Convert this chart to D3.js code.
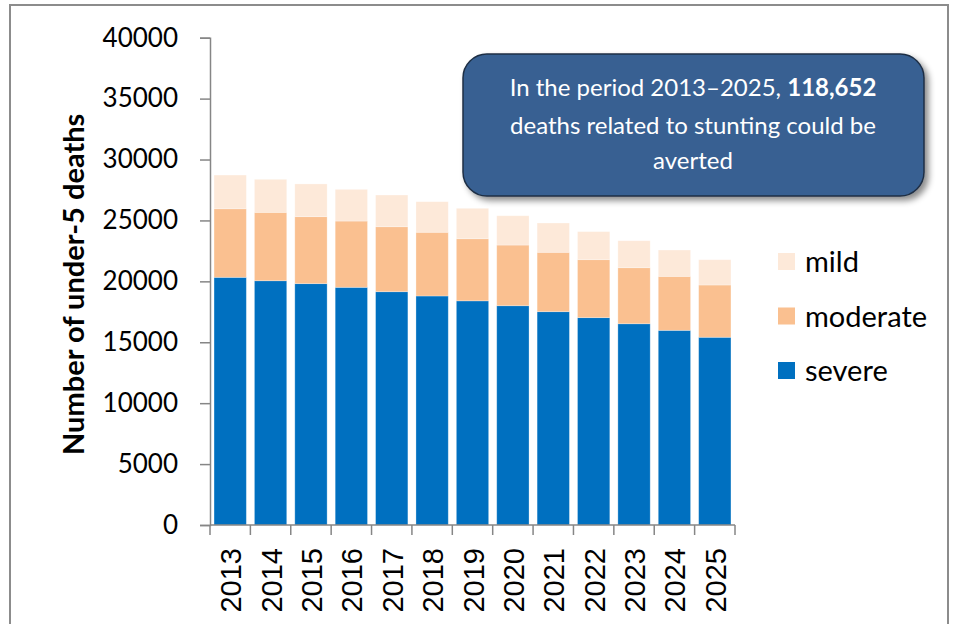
<!DOCTYPE html>
<html>
<head>
<meta charset="utf-8">
<script src="https://cdn.jsdelivr.net/npm/d3@7"></script>
<style>
  body { margin: 0; background: #fff; }
  svg { display: block; font-family: Lato, "Open Sans", sans-serif; }
</style>
</head>
<body>
<div></div>
<script>
const years = ['2013', '2014', '2015', '2016', '2017', '2018', '2019', '2020', '2021', '2022', '2023', '2024', '2025'];
const severe = [20330, 20050, 19810, 19510, 19150, 18800, 18400, 18000, 17510, 17020, 16520, 15980, 15410];
const moderate = [5630, 5615, 5500, 5440, 5335, 5230, 5100, 4980, 4875, 4760, 4600, 4430, 4290];
const mild = [2765, 2710, 2685, 2600, 2600, 2510, 2495, 2405, 2405, 2300, 2215, 2160, 2075];
const yTicks = [0, 5000, 10000, 15000, 20000, 25000, 30000, 35000, 40000];
const seriesNames = ['severe', 'moderate', 'mild'];
const colors = { severe: '#0070C0', moderate: '#FAC090', mild: '#FDE9D9' };

const svgWidth = 960, svgHeight = 624;
const plotLeft = 210, plotRight = 735, plotTop = 37.7, plotBottom = 525;

const table = years.map((y, i) => ({ year: y, severe: severe[i], moderate: moderate[i], mild: mild[i] }));
const stacked = d3.stack().keys(seriesNames)(table);

const svg = d3.select('body').select('div')
  .append('svg')
  .attr('width', svgWidth)
  .attr('height', svgHeight);

const defs = svg.append('defs');
const shadow = defs.append('filter').attr('id', 'shadow')
  .attr('x', '-10%').attr('y', '-10%').attr('width', '130%').attr('height', '140%');
shadow.append('feDropShadow')
  .attr('dx', 4).attr('dy', 4).attr('stdDeviation', 3)
  .attr('flood-color', '#000').attr('flood-opacity', 0.45);

// outer frame
svg.append('rect')
  .attr('x', 10).attr('y', 5)
  .attr('width', 938).attr('height', 640)
  .attr('fill', 'none')
  .attr('stroke', '#8c8c8c')
  .attr('stroke-width', 2);

const xScale = d3.scaleBand()
  .domain(years)
  .range([plotLeft, plotRight])
  .paddingInner(0.2)
  .paddingOuter(0.1);

const yScale = d3.scaleLinear()
  .domain([0, 40000])
  .range([plotBottom, plotTop]);

svg.append('g')
  .selectAll('g')
  .data(stacked)
  .enter()
  .append('g')
  .attr('fill', d => colors[d.key])
  .selectAll('rect')
  .data(d => d)
  .enter()
  .append('rect')
  .attr('x', d => xScale(d.data.year))
  .attr('y', d => yScale(d[1]))
  .attr('width', xScale.bandwidth())
  .attr('height', d => yScale(d[0]) - yScale(d[1]))
  .attr('stroke', '#fff')
  .attr('stroke-opacity', 0.35)
  .attr('stroke-width', 0.8);

// y axis
const yAxis = svg.append('g')
  .attr('transform', `translate(${plotLeft}, 0)`)
  .call(d3.axisLeft(yScale).tickValues(yTicks).tickSize(10).tickPadding(22).tickFormat(d3.format('d')));
yAxis.select('.domain').attr('stroke', '#868686').attr('stroke-width', 1.5);
yAxis.selectAll('.tick line').attr('stroke', '#868686').attr('stroke-width', 1.5);
yAxis.selectAll('.tick text')
  .attr('fill', '#000')
  .style('font-size', '26px')
  .style('font-family', 'Lato, sans-serif');

// x axis: ticks at category boundaries
const xAxis = svg.append('g')
  .attr('transform', `translate(0, ${plotBottom})`);
xAxis.append('line')
  .attr('x1', plotLeft).attr('x2', plotRight)
  .attr('stroke', '#868686').attr('stroke-width', 1.5);
const step = xScale.step();
const bounds = d3.range(years.length + 1).map(i => plotLeft + i * step);
xAxis.selectAll('line.tk')
  .data(bounds)
  .enter()
  .append('line')
  .attr('class', 'tk')
  .attr('x1', d => d).attr('x2', d => d)
  .attr('y1', 0).attr('y2', 10)
  .attr('stroke', '#868686').attr('stroke-width', 1.5);
xAxis.selectAll('text')
  .data(years)
  .enter()
  .append('text')
  .attr('transform', d => `translate(${xScale(d) + xScale.bandwidth() / 2 + 11}, 23) rotate(-90)`)
  .attr('text-anchor', 'end')
  .style('font-size', '29px')
  .style('font-family', '"Liberation Sans Narrow", "Liberation Sans", sans-serif')
  .attr('fill', '#000')
  .text(d => d);

// y axis title
svg.append('text')
  .attr('transform', `translate(84, ${(plotTop + plotBottom) / 2 + 3}) rotate(-90)`)
  .attr('text-anchor', 'middle')
  .style('font-size', '29px')
  .style('font-weight', 'bold')
  .attr('fill', '#000')
  .text('Number of under-5 deaths');

// legend
const legendNames = ['mild', 'moderate', 'severe'];
const legend = svg.append('g')
  .selectAll('g')
  .data(legendNames)
  .enter()
  .append('g')
  .attr('transform', (d, i) => `translate(778, ${253 + i * 54.5})`);
legend.append('rect')
  .attr('width', 17).attr('height', 17)
  .attr('fill', d => colors[d]);
legend.append('text')
  .attr('x', 27).attr('y', 19)
  .style('font-size', '29px')
  .attr('fill', '#000')
  .text(d => d);

// annotation box
const note = svg.append('g');
note.append('rect')
  .attr('x', 463).attr('y', 54)
  .attr('width', 461).attr('height', 142)
  .attr('rx', 24).attr('ry', 24)
  .attr('fill', '#376092')
  .attr('stroke', '#1f2f45')
  .attr('stroke-width', 1.5)
  .attr('filter', 'url(#shadow)');
const noteText = note.append('text')
  .attr('text-anchor', 'middle')
  .attr('fill', '#fff')
  .style('font-size', '24px');
const line1 = noteText.append('tspan').attr('x', 693).attr('y', 96);
line1.append('tspan').text('In the period 2013–2025, ');
line1.append('tspan').style('font-weight', 'bold').text('118,652');
noteText.append('tspan').attr('x', 693).attr('y', 134).text('deaths related to stunting could be');
noteText.append('tspan').attr('x', 693).attr('y', 169).text('averted');
</script>
</body>
</html>
